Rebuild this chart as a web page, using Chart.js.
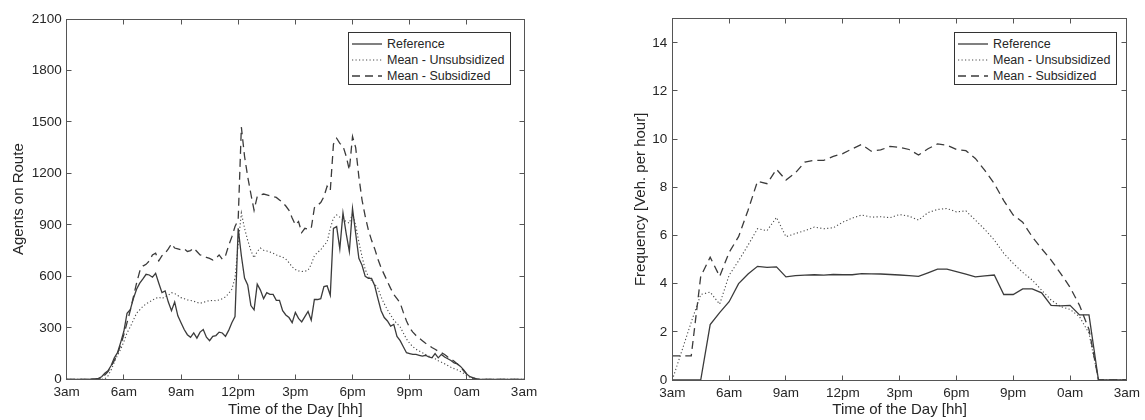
<!DOCTYPE html>
<html>
<head>
<meta charset="utf-8">
<script src="https://cdn.jsdelivr.net/npm/chart.js@4.4.1/dist/chart.umd.min.js"></script>
<style>
  html, body { margin: 0; padding: 0; background: #fff; }
  body { width: 1145px; height: 420px; position: relative; overflow: hidden; font-family: "Liberation Sans", Arial, sans-serif; }
  .panel { position: absolute; top: 0; height: 420px; }
  .panel canvas { display: block; }
  .legend { position: absolute; top: 32px; width: 163px; height: 53px; box-sizing: border-box; border: 1px solid #333; background: #fff; padding-top: 3px; }
  .legend .row { display: flex; align-items: center; height: 16px; font-size: 12.5px; color: #262626; white-space: nowrap; }
  .legend svg { margin-left: 3px; margin-right: 5px; flex: none; }
</style>
</head>
<body>
<div class="panel" style="left:0;width:572px"><canvas id="agentsChart" width="572" height="420"></canvas></div>
<div class="panel" style="left:572px;width:573px"><canvas id="freqChart" width="573" height="420"></canvas></div>
<div class="legend" id="legendAgents" style="left:348px"></div>
<div class="legend" id="legendFreq" style="left:954px"></div>
<script>
const hourTicks = ['3am', '6am', '9am', '12pm', '3pm', '6pm', '9pm', '0am', '3am'];
const seriesNames = ['Reference', 'Mean - Unsubsidized', 'Mean - Subsidized'];

// left panel: agents on route, one value every 10 minutes from 3am to 3am
const agentsStepMin = 10;
const refAgents = [
    0, 0, 0, 0, 0, 0,              // 3h
    0, 0, 2, 3, 5, 15,             // 4h
    35, 50, 80, 125, 155, 215,     // 5h
    280, 385, 405, 470, 525, 560,  // 6h
    585, 612, 608, 595, 618, 560,  // 7h
    505, 515, 450, 400, 450, 370,  // 8h
    330, 290, 260, 245, 270, 240,  // 9h
    275, 290, 245, 225, 250, 255,  // 10h
    275, 270, 250, 285, 330, 365,  // 11h
    880, 720, 590, 550, 430, 405,  // 12h
    555, 520, 470, 505, 495, 495,  // 13h
    460, 460, 400, 375, 360, 330,  // 14h
    390, 355, 335, 365, 395, 345,  // 15h
    465, 465, 470, 540, 545, 490,  // 16h
    880, 890, 760, 970, 850, 745,  // 17h
    995, 850, 705, 665, 600, 588,  // 18h
    588, 545, 470, 400, 360, 340,  // 19h
    310, 320, 250, 225, 190, 155,  // 20h
    150, 145, 145, 140, 135, 140,  // 21h
    130, 125, 150, 125, 145, 130,  // 22h
    120, 110, 95, 90, 75, 55,      // 23h
    30, 15, 8, 3, 0, 0,            // 0h
    0, 0, 0, 0, 0, 0,              // 1h
    0, 0, 0, 0, 0, 0,              // 2h
    0
];
const unsubAgents = [
    0, 0, 0, 0, 0, 0,
    0, 0, 0, 0, 0, 0,
    2, 20, 55, 100, 140, 175,
    220, 270, 305, 345, 385, 405,
    425, 440, 450, 462, 472, 478,
    470, 482, 490, 505, 500, 488,
    476, 470, 463, 460, 455, 448,
    443, 448, 455, 458, 460, 458,
    462, 470, 480, 500, 525, 590,
    790, 970, 880, 810, 750, 708,
    745, 765, 752, 748, 742, 735,
    725, 718, 712, 700, 680, 655,
    640, 632, 628, 630, 635, 670,
    720, 740, 755, 780, 800, 880,
    940, 958, 945, 930, 920, 910,
    965, 900, 800, 715, 640, 598,
    575, 555, 530, 480, 440, 405,
    375, 345, 325, 305, 270, 235,
    210, 190, 175, 165, 155, 145,
    135, 128, 120, 108, 100, 90,
    80, 70, 62, 55, 45, 35,
    22, 12, 5, 0, 0, 0,
    0, 0, 0, 0, 0, 0,
    0, 0, 0, 0, 0, 0,
    0
];
const subAgents = [
    0, 0, 0, 0, 0, 0,
    0, 0, 0, 0, 2, 5,
    25, 45, 75, 110, 150, 200,
    260, 330, 400, 480, 560, 630,
    660, 670, 690, 725, 735, 690,
    720, 735, 760, 790, 765, 760,
    755, 760, 745, 750, 765, 745,
    725, 720, 710, 705, 695, 705,
    725, 700, 720, 780, 830, 890,
    930, 1470, 1300, 1180, 1080, 985,
    1065, 1075, 1080, 1075, 1070, 1065,
    1060, 1045, 1030, 1010, 985, 940,
    900, 920, 855, 880, 875, 880,
    1000, 1015, 1030, 1065, 1125, 1100,
    1370, 1405, 1375, 1360, 1300, 1220,
    1415, 1350, 1180, 1045, 950, 870,
    810, 760, 700, 650, 610, 570,
    530, 495, 470, 445, 390, 340,
    300, 275, 255, 240, 225, 210,
    200, 185, 175, 163, 155, 145,
    130, 118, 105, 90, 70, 50,
    30, 15, 8, 3, 0, 0,
    0, 0, 0, 0, 0, 0,
    0, 0, 0, 0, 0, 0,
    0
];

// right panel: frequency, one value every 30 minutes from 3am to 3am
const freqStepMin = 30;
const refFreq = [
    0, 0,  0, 0,  2.3, 2.8,  3.25, 4.0,  4.4, 4.72,  4.68, 4.7,
    4.28, 4.33,  4.35, 4.37,  4.35, 4.38,  4.37, 4.37,  4.42, 4.41,  4.40, 4.38,
    4.36, 4.33,  4.3, 4.45,  4.6, 4.6,  4.5, 4.4,  4.28, 4.32,  4.36, 3.55,
    3.55, 3.78,  3.78, 3.62,  3.1, 3.08,  3.1, 2.7,  2.7, 0,  0, 0,
    0
];
const unsubFreq = [
    0, 1.2,  2.4, 3.55,  3.65, 3.15,  4.35, 4.95,  5.6, 6.28,  6.2, 6.75,
    5.95, 6.08,  6.2, 6.35,  6.28, 6.32,  6.55, 6.72,  6.85, 6.76,  6.78, 6.74,
    6.87, 6.8,  6.64, 6.95,  7.08, 7.12,  6.98, 7.02,  6.64, 6.25,  5.81, 5.26,
    4.84, 4.47,  4.15, 3.73,  3.32, 3.05,  2.93, 2.63,  1.94, 0,  0, 0,
    0
];
const subFreq = [
    1.0, 1.0,  1.0, 4.3,  5.1, 4.3,  5.3, 5.95,  7.05, 8.25,  8.15, 8.75,
    8.3, 8.6,  9.05, 9.12,  9.12, 9.28,  9.4, 9.6,  9.78, 9.5,  9.55, 9.7,
    9.66, 9.57,  9.34, 9.6,  9.8, 9.75,  9.57, 9.52,  9.2, 8.7,  8.15, 7.45,
    6.85, 6.55,  5.95, 5.45,  4.98, 4.43,  3.85, 3.1,  2.1, 0,  0, 0,
    0
];

const textColor = '#262626';
const axisColor = '#555';
const lineStyles = [
    { borderColor: '#3b3b3b', borderWidth: 1.3, borderDash: [] },
    { borderColor: '#4a4a4a', borderWidth: 1.1, borderDash: [1.2, 2.3] },
    { borderColor: '#3b3b3b', borderWidth: 1.3, borderDash: [8, 5] }
];

Chart.defaults.font.family = '"Liberation Sans", Arial, sans-serif';
Chart.defaults.color = textColor;

function toPoints(values, stepMin) {
    return values.map((v, i) => ({ x: 3 + i * stepMin / 60, y: v }));
}

// MATLAB style box with inward ticks on all four sides
const boxTicks = {
    id: 'boxTicks',
    afterDraw(chart) {
        const { ctx, chartArea: a, scales: { x, y } } = chart;
        const L = Math.floor(a.left) + 0.5, R = Math.floor(a.right) + 0.5;
        const T = Math.floor(a.top) + 0.5, B = Math.floor(a.bottom) + 0.5;
        const len = 5;
        ctx.save();
        ctx.strokeStyle = axisColor;
        ctx.lineWidth = 1;
        ctx.setLineDash([]);
        ctx.strokeRect(L, T, R - L, B - T);
        ctx.beginPath();
        x.ticks.forEach(t => {
            const px = Math.floor(x.getPixelForValue(t.value)) + 0.5;
            ctx.moveTo(px, B); ctx.lineTo(px, B - len);
            ctx.moveTo(px, T); ctx.lineTo(px, T + len);
        });
        y.ticks.forEach(t => {
            const py = Math.floor(y.getPixelForValue(t.value)) + 0.5;
            ctx.moveTo(L, py); ctx.lineTo(L + len, py);
            ctx.moveTo(R, py); ctx.lineTo(R - len, py);
        });
        ctx.stroke();
        ctx.restore();
    }
};

function makeChart(canvasId, cfg) {
    const ctx = document.getElementById(canvasId).getContext('2d');
    return new Chart(ctx, {
        type: 'line',
        data: {
            datasets: cfg.series.map((vals, i) => ({
                label: seriesNames[i],
                data: toPoints(vals, cfg.stepMin),
                borderColor: lineStyles[i].borderColor,
                borderWidth: lineStyles[i].borderWidth,
                borderDash: lineStyles[i].borderDash,
                pointRadius: 0,
                tension: 0,
                fill: false
            }))
        },
        options: {
            responsive: false,
            animation: false,
            events: [],
            layout: { padding: cfg.padding },
            plugins: { legend: { display: false }, tooltip: { enabled: false } },
            scales: {
                x: {
                    type: 'linear',
                    min: 3,
                    max: 27,
                    afterFit: s => { s.height = cfg.bottomH; },
                    ticks: {
                        stepSize: 3,
                        autoSkip: false,
                        maxRotation: 0,
                        padding: 5,
                        color: textColor,
                        font: { size: 13.5 },
                        callback: value => hourTicks[Math.round((value - 3) / 3)]
                    },
                    grid: { display: false, drawTicks: false },
                    border: { display: false },
                    title: {
                        display: true,
                        text: 'Time of the Day [hh]',
                        color: textColor,
                        font: { size: 15 },
                        padding: { top: 0, bottom: 1 }
                    }
                },
                y: {
                    min: 0,
                    max: cfg.yMax,
                    afterFit: s => { s.width = cfg.leftW; },
                    ticks: {
                        stepSize: cfg.yStep,
                        includeBounds: false,
                        padding: 5,
                        color: textColor,
                        font: { size: 13.5 },
                        callback: value => String(value)
                    },
                    grid: { display: false, drawTicks: false },
                    border: { display: false },
                    title: {
                        display: true,
                        text: cfg.yTitle,
                        color: textColor,
                        font: { size: 15 },
                        padding: { top: 9.5, bottom: 0 }
                    }
                }
            }
        },
        plugins: [boxTicks]
    });
}

makeChart('agentsChart', {
    series: [refAgents, unsubAgents, subAgents],
    stepMin: agentsStepMin,
    yMax: 2100,
    yStep: 300,
    yTitle: 'Agents on Route',
    padding: { left: 0, top: 19, right: 48, bottom: 0 },
    leftW: 66.7,
    bottomH: 40.7
});

makeChart('freqChart', {
    series: [refFreq, unsubFreq, subFreq],
    stepMin: freqStepMin,
    yMax: 15,
    yStep: 2,
    yTitle: 'Frequency [Veh. per hour]',
    padding: { left: 50, top: 18.7, right: 15, bottom: 0 },
    leftW: 50.3,
    bottomH: 40
});

// legends inside the plot areas, drawn as HTML
function buildLegend(id) {
    const box = document.getElementById(id);
    seriesNames.forEach((name, i) => {
        const row = document.createElement('div');
        row.className = 'row';
        const st = lineStyles[i];
        row.innerHTML =
            '<svg width="30" height="6"><line x1="0" y1="3" x2="30" y2="3" stroke="' + st.borderColor +
            '" stroke-width="' + st.borderWidth + '" stroke-dasharray="' + (st.borderDash.length ? st.borderDash.join(',') : 'none') +
            '"/></svg><span>' + name + '</span>';
        box.appendChild(row);
    });
}
buildLegend('legendAgents');
buildLegend('legendFreq');
</script>
</body>
</html>
